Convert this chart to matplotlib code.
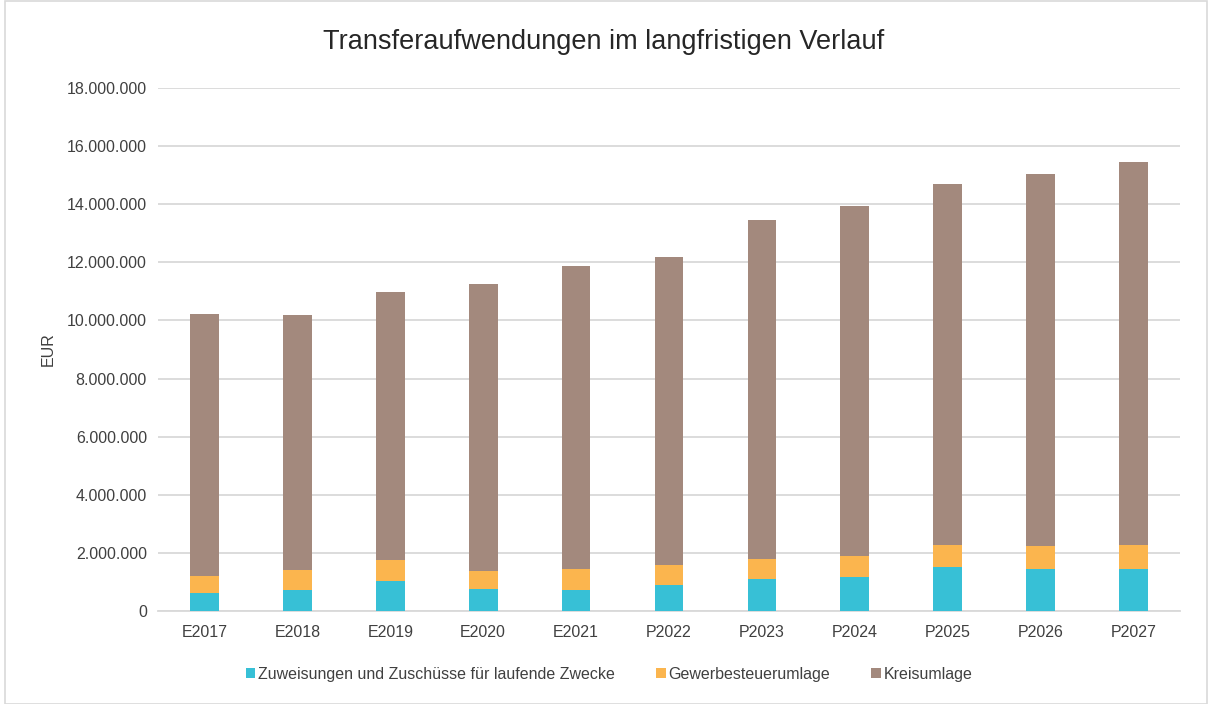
import matplotlib
matplotlib.use("Agg")
import matplotlib.pyplot as plt
from matplotlib.patches import Rectangle
from matplotlib.ticker import FuncFormatter
import numpy as np

categories = ["E2017", "E2018", "E2019", "E2020", "E2021", "P2022",
              "P2023", "P2024", "P2025", "P2026", "P2027"]
zuweisungen = [620000, 730000, 1030000, 770000, 730000, 900000,
               1100000, 1160000, 1530000, 1450000, 1460000]
gewerbe = [600000, 680000, 740000, 600000, 700000, 680000,
           690000, 730000, 740000, 780000, 820000]
totals = [10220000, 10190000, 10980000, 11250000, 11880000, 12180000,
          13470000, 13950000, 14710000, 15040000, 15450000]
kreis = [t - z - g for t, z, g in zip(totals, zuweisungen, gewerbe)]

labels = ["Zuweisungen und Zuschüsse für laufende Zwecke",
          "Gewerbesteuerumlage", "Kreisumlage"]
colors = ["#37C0D6", "#FBB54E", "#A3897D"]
text_color = "#404040"

plt.rcParams['font.family'] = ['Liberation Sans', 'DejaVu Sans']

fig = plt.figure(figsize=(12.08, 7.04), dpi=100)
fig.patches.append(Rectangle((5/1208, 0.5/704), 1 - 6/1208, 1 - 1.5/704,
                             transform=fig.transFigure, fill=False,
                             edgecolor="#D9D9D9", linewidth=1.2))

ax = fig.add_axes([158/1208, 1 - 611/704, (1180-158)/1208, (611-88)/704])
x = np.arange(len(categories))
w = 0.31
b1 = ax.bar(x, zuweisungen, w, color=colors[0], label=labels[0], zorder=3)
bottom2 = np.array(zuweisungen)
b2 = ax.bar(x, gewerbe, w, bottom=bottom2, color=colors[1], label=labels[1], zorder=3)
bottom3 = bottom2 + np.array(gewerbe)
b3 = ax.bar(x, kreis, w, bottom=bottom3, color=colors[2], label=labels[2], zorder=3)

ax.set_xlim(-0.5, len(categories) - 0.5)
ax.set_ylim(0, 18000000)
ax.set_yticks(np.arange(0, 18000001, 2000000))
ax.yaxis.set_major_formatter(FuncFormatter(lambda v, p: f"{int(v):,}".replace(",", ".")))
ax.set_xticks(x)
ax.set_xticklabels(categories)
ax.grid(axis="y", color="#D9D9D9", linewidth=1.3, zorder=0)
for s in ["top", "right", "left"]:
    ax.spines[s].set_visible(False)
ax.spines["bottom"].set_color("#D9D9D9")
ax.spines["bottom"].set_linewidth(1.3)
ax.tick_params(axis="both", length=0, colors=text_color, labelsize=11.5)
ax.tick_params(axis="y", pad=8)
ax.tick_params(axis="x", pad=10)
ax.set_ylabel("EUR", color=text_color, fontsize=11.5, labelpad=8)

fig.text(0.5, 1 - 42/704, "Transferaufwendungen im langfristigen Verlauf",
         ha="center", va="center", fontsize=19.5, color="#262626")

leg = fig.legend(handles=[b1, b2, b3], labels=labels, loc="center",
                 bbox_to_anchor=(609/1208, 1 - 674/704), ncol=3, frameon=False,
                 fontsize=11.5, handlelength=0.6, handleheight=0.6,
                 handletextpad=0.15, columnspacing=2.6, labelcolor=text_color)

fig.savefig("out.png", dpi=100)
